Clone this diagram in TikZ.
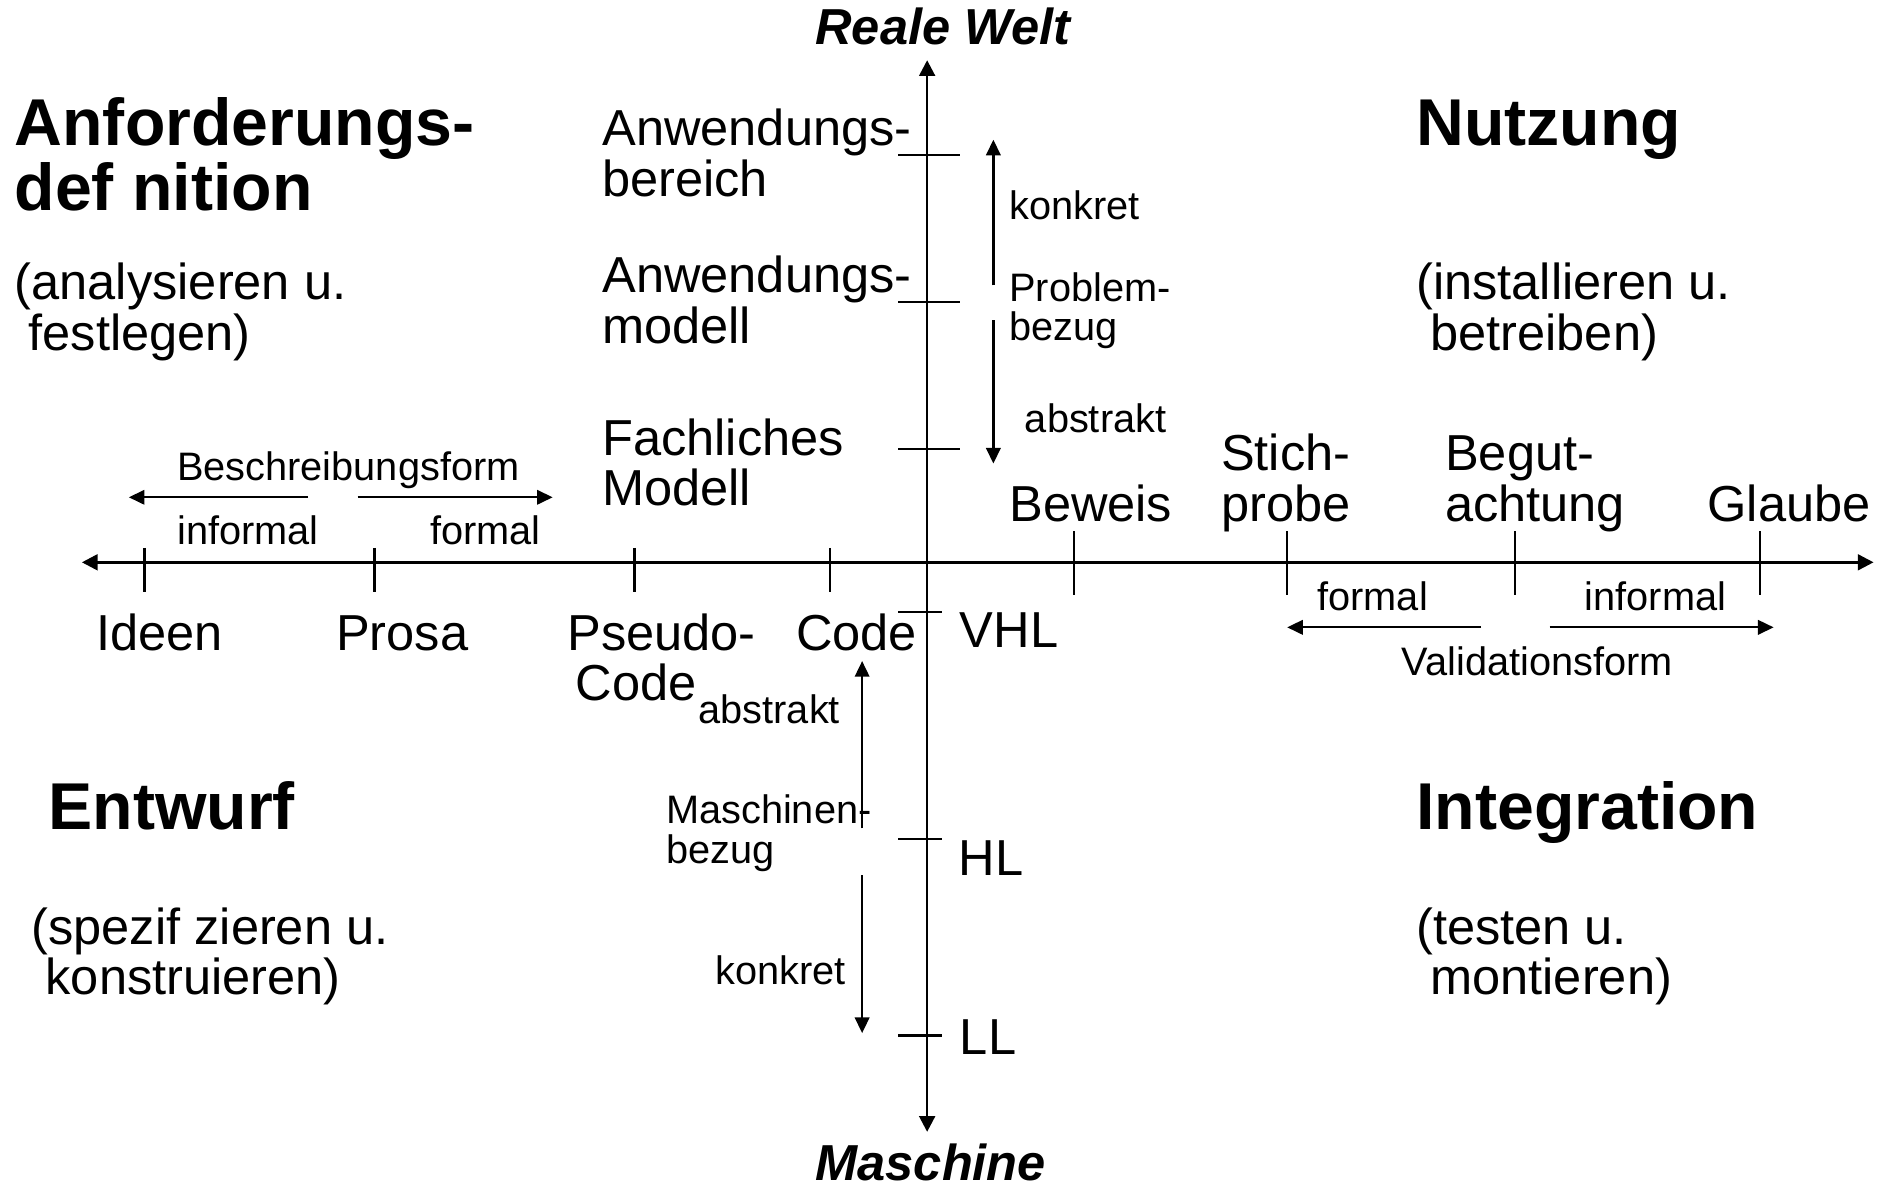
\documentclass[tikz,border=0pt]{standalone}
\usepackage{fontspec}
\setmainfont{Liberation Sans}
\usetikzlibrary{arrows.meta}
\begin{document}
\begin{tikzpicture}[x=1pt,y=-1pt,
  axisline/.style={line width=2.2pt,{Triangle[length=13pt,width=13pt]}-{Triangle[length=13pt,width=13pt]}},
  tickline/.style={line width=1.8pt},
  dirarrow/.style={line width=1.9pt,-{Triangle[length=13pt,width=12pt]}},
  txt/.style={anchor=base west,inner sep=0pt,align=left},
  heading/.style={txt,font=\fontsize{55}{54}\selectfont\bfseries},
  subtext/.style={txt,font=\fontsize{42}{42}\selectfont},
  label/.style={txt,font=\fontsize{42}{42}\selectfont},
  note/.style={txt,font=\fontsize{33}{33}\selectfont},
  pole/.style={anchor=base,inner sep=0pt,text depth=0pt,font=\fontsize{42}{42}\selectfont\bfseries\itshape},
]
\useasboundingbox (0,0) rectangle (1568,986);

% axes
\coordinate (west) at (68,467);
\coordinate (east) at (1556,467);
\coordinate (north) at (770,50);
\coordinate (south) at (770,940);
\draw[axisline] (west) -- (east);
\draw[axisline] (north) -- (south);

% ticks on the vertical axis
\foreach \y in {129,251,373} \draw[tickline] (746,\y) -- (797,\y);
\foreach \y in {508,697,860} \draw[tickline] (746,\y) -- (782,\y);
% ticks on the horizontal axis
\foreach \x in {120,311,527,689} \draw[tickline] (\x,455) -- (\x,492);
\foreach \x in {892,1069,1258,1462} \draw[tickline] (\x,441) -- (\x,494);

% poles of the vertical axis (multi-line nodes below sit on their last baseline)
\node[pole] (welt) at (783,37) {Reale Welt};
\node[pole] (maschine) at (773,980) {Maschine};

% quadrant headings
\node[heading] (anf) at (12,175) {Anforderungs-\\def nition};
\node[subtext] (anfsub) at (12,291) {(analysieren u.\\\ festlegen)};
\node[heading] (nutz) at (1176,121) {Nutzung};
\node[subtext] (nutzsub) at (1176,291) {(installieren u.\\\ betreiben)};
\node[heading] (entw) at (40,689) {Entwurf};
\node[subtext] (entwsub) at (26,826) {(spezif zieren u.\\\ konstruieren)};
\node[heading] (integ) at (1176,689) {Integration};
\node[subtext] (integsub) at (1176,826) {(testen u.\\\ montieren)};

% levels of the problem reference
\node[label] (bereich) at (500,163) {Anwendungs-\\bereich};
\node[label] (amodell) at (500,285) {Anwendungs-\\modell};
\node[label] (fmodell) at (500,420) {Fachliches\\Modell};

\node[note] (pkonkret) at (838,182) {konkret};
\node[note] (problem) at (838,283) {Problem-\\bezug};
\node[note] (pabstrakt) at (851,359) {abstrakt};
\coordinate (pu0) at (825,237); \coordinate (pu1) at (825,116);
\coordinate (pd0) at (825,266); \coordinate (pd1) at (825,385);
\draw[dirarrow] (pu0) -- (pu1);
\draw[dirarrow] (pd0) -- (pd1);

% description form
\node[note] (beschr) at (147,399) {Beschreibungsform};
\node[note] (binf) at (147,452) {informal};
\node[note] (bform) at (357,452) {formal};
\coordinate (bl0) at (256,413); \coordinate (bl1) at (107,413);
\coordinate (br0) at (297,413); \coordinate (br1) at (459,413);
\draw[dirarrow] (bl0) -- (bl1);
\draw[dirarrow] (br0) -- (br1);

% description levels
\node[label] (ideen) at (80,540) {Ideen};
\node[label] (prosa) at (279,540) {Prosa};
\node[label] (pseudo) at (471,582) {Pseudo-\\\hspace{7pt}Code};
\node[label] (code) at (661,540) {Code};

% validation levels
\node[label] (beweis) at (838,433) {Beweis};
\node[label] (stich) at (1014,433) {Stich-\\probe};
\node[label] (begut) at (1200,433) {Begut-\\achtung};
\node[label] (glaube) at (1418,433) {Glaube};

% validation form
\node[note] (vform) at (1094,507) {formal};
\node[note] (vinf) at (1316,507) {informal};
\node[note] (valid) at (1164,561) {Validationsform};
\coordinate (vl0) at (1230,521); \coordinate (vl1) at (1069,521);
\coordinate (vr0) at (1287,521); \coordinate (vr1) at (1473,521);
\draw[dirarrow] (vl0) -- (vl1);
\draw[dirarrow] (vr0) -- (vr1);

% language levels
\node[label] (vhl) at (797,538) {VHL};
\node[label] (hl) at (796,727) {HL};
\node[label] (ll) at (797,876) {LL};

% machine reference
\node[note] (mabstrakt) at (580,601) {abstrakt};
\node[note] (masch) at (553,717) {Maschinen-\\bezug};
\node[note] (mkonkret) at (594,818) {konkret};
\coordinate (mu0) at (716,688); \coordinate (mu1) at (716,549);
\coordinate (md0) at (716,727); \coordinate (md1) at (716,858);
\draw[dirarrow] (mu0) -- (mu1);
\draw[dirarrow] (md0) -- (md1);
\end{tikzpicture}
\end{document}
